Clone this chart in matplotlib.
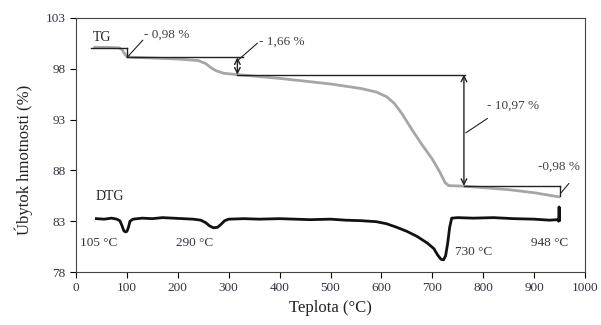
import matplotlib
matplotlib.use('Agg')
import matplotlib.pyplot as plt

plt.rcParams['font.family'] = ['Liberation Serif', 'DejaVu Serif']

# TG krivka (sivá)
tg_temp = [37, 60, 85, 90, 95, 100, 110, 150, 200, 240, 255, 265, 275, 290, 320,
           400, 500, 560, 590, 610, 625, 640, 660, 680, 700, 715, 725, 732, 760,
           800, 850, 900, 948]
tg_mass = [100.1, 100.1, 100.05, 99.9, 99.5, 99.2, 99.12, 99.05, 98.95, 98.8, 98.5,
           98.1, 97.8, 97.55, 97.4, 97.05, 96.5, 96.05, 95.7, 95.25, 94.6, 93.6,
           92.0, 90.5, 89.1, 87.8, 86.8, 86.5, 86.45, 86.3, 86.1, 85.8, 85.4]

# DTG krivka (čierna)
dtg_temp = [40, 55, 70, 80, 86, 90, 94, 97, 100, 103, 106, 112, 130, 150, 170, 190,
            210, 230, 245, 255, 262, 270, 278, 285, 292, 300, 330, 360, 400, 430,
            460, 500, 530, 560, 590, 610, 630, 650, 670, 690, 703, 710, 717, 722,
            726, 730, 734, 738, 750, 780, 820, 860, 900, 930, 946, 948, 949, 950]
dtg_val = [83.25, 83.2, 83.3, 83.2, 83.05, 82.6, 82.05, 81.95, 82.0, 82.4, 83.0,
           83.2, 83.3, 83.25, 83.35, 83.3, 83.25, 83.2, 83.1, 82.85, 82.55, 82.35,
           82.4, 82.7, 83.05, 83.2, 83.25, 83.2, 83.25, 83.2, 83.15, 83.2, 83.1,
           83.05, 82.95, 82.75, 82.4, 82.0, 81.5, 80.85, 80.3, 79.7, 79.25, 79.2,
           79.6, 80.8, 82.4, 83.3, 83.35, 83.3, 83.35, 83.25, 83.2, 83.1, 83.15,
           83.0, 84.4, 83.1]

# úrovne úbytkov hmotnosti a ich popisy
step_levels = [100.08, 99.12, 97.42, 86.47, 85.45]
step_temps = [100, 317, 762, 951]
step_labels = ['- 0,98 %', '- 1,66 %', '- 10,97 %', '-0,98 %']
peak_labels = ['105 °C', '290 °C', '730 °C', '948 °C']
peak_pos = [(8, 80.85), (197, 80.85), (744, 79.95), (894, 80.85)]

fig = plt.figure(figsize=(6.01, 3.25), dpi=100)
ax = fig.add_axes([0.1265, 0.163, 0.847, 0.782])

ax.plot(tg_temp, tg_mass, color='#a6a6a6', lw=2)
ax.plot(dtg_temp, dtg_val, color='#111111', lw=2)

lc = '#222222'
# horizontálne úrovne
ax.plot([30, step_temps[0]], [step_levels[0]] * 2, color=lc, lw=1)
ax.plot([step_temps[0]] * 2, [step_levels[0], step_levels[1]], color=lc, lw=1)
ax.plot([step_temps[0], 328], [step_levels[1]] * 2, color=lc, lw=1)
ax.plot([step_temps[1], 765], [step_levels[2]] * 2, color=lc, lw=1)
ax.plot([step_temps[2], step_temps[3]], [step_levels[3]] * 2, color=lc, lw=1)
ax.plot([step_temps[3]] * 2, [step_levels[3], step_levels[4]], color=lc, lw=1)
# obojstranné šípky
for t, a, b in [(step_temps[1], step_levels[1], step_levels[2]),
                (step_temps[2], step_levels[2], step_levels[3])]:
    ax.annotate('', xy=(t, b), xytext=(t, a),
                arrowprops=dict(arrowstyle='<->', color=lc, lw=1,
                                shrinkA=0, shrinkB=0))

tc = '#404040'
# popisy úbytkov s odkazovými čiarami
ax.plot([101, 131], [99.15, 100.8], color=lc, lw=0.8)
ax.text(134, 101.3, step_labels[0], fontsize=9.5, color=tc, va='center')
ax.plot([319, 356], [98.87, 100.5], color=lc, lw=0.8)
ax.text(360, 100.7, step_labels[1], fontsize=9.5, color=tc, va='center')
ax.plot([766, 808], [91.7, 93.1], color=lc, lw=0.8)
ax.text(808, 94.4, step_labels[2], fontsize=9.5, color=tc, va='center')
ax.plot([953, 968], [85.8, 86.7], color=lc, lw=0.8)
ax.text(907, 88.4, step_labels[3], fontsize=9.5, color=tc, va='center')

ax.text(32, 101.1, 'TG', fontsize=10, color='#222222', va='center')
ax.text(39, 85.4, 'DTG', fontsize=10, color='#222222', va='center')
for lab, (x, y) in zip(peak_labels, peak_pos):
    ax.text(x, y, lab, fontsize=9.5, color='#333344', va='center')

ax.set_xlim(0, 1000)
ax.set_ylim(78, 103)
ax.set_xticks(range(0, 1001, 100))
ax.set_yticks([78, 83, 88, 93, 98, 103])
ax.tick_params(direction='out', length=4, labelsize=9.5, labelcolor='#333344')
for s in ax.spines.values():
    s.set_color('#444444')
    s.set_linewidth(0.8)

ax.set_xlabel('Teplota (°C)', fontsize=12, color='#222222', labelpad=4)
ax.set_ylabel('Úbytok hmotnosti (%)', fontsize=12, color='#222222', labelpad=6)
ax.yaxis.set_label_coords(-0.085, 0.44)

fig.savefig('out.png', dpi=100)
